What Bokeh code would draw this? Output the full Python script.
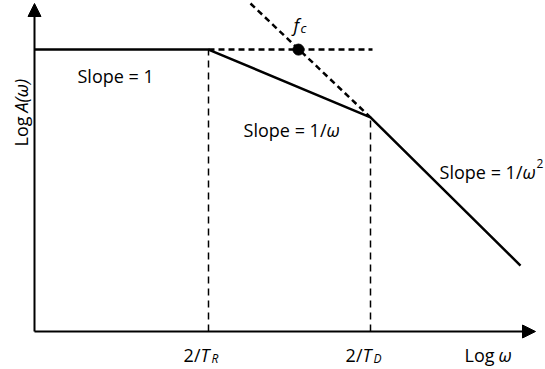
import math
from bokeh.plotting import figure
from bokeh.models import Label, Arrow, NormalHead, Range1d
from bokeh.embed import file_html
from bokeh.resources import INLINE

# ---- data (log-log units, arbitrary) ----
break_x = [0.0, 3.48, 6.72, 9.72]        # 0, 2/T_R, 2/T_D, end
response_y = [8.81, 8.81, 6.69, 2.06]     # Log A(w) at those points
plateau_ext_x = [3.48, 6.76]              # dashed extension of plateau
plateau_ext_y = [8.81, 8.81]
diag_x = [4.32, 6.72]                     # dashed asymptote through f_c
diag_y = [10.25, 6.69]
fc_x = [5.28]
fc_y = [8.81]
tick_x = [3.48, 6.72]
tick_sub = ["R", "D"]

# ---- layout constants (pixel mapping) ----
PXX, PXY = 50.0, 32.0
OX, OY = 34.0, 331.0
W, H = 545, 369
OFF = 0
x0 = (OFF - OX) / PXX
x1 = (OFF + W - OX) / PXX
y1 = (OY - OFF) / PXY
y0 = (OY - (OFF + H)) / PXY

def X(px):
    return (px - OX) / PXX

def Y(py):
    return (OY - py) / PXY

FONT = "Open Sans"
FS = "18px"

p = figure(width=W, height=H, output_backend="svg", toolbar_location=None,
           x_range=Range1d(x0, x1), y_range=Range1d(y0, y1),
           x_axis_type=None, y_axis_type=None, min_border=0)
p.grid.visible = False
p.outline_line_color = None
p.background_fill_color = "white"

# axes with arrows
p.add_layout(Arrow(end=NormalHead(size=13, fill_color="black", line_color="black", line_width=1),
                   x_start=0, y_start=0, x_end=0, y_end=Y(3), line_width=2, line_color="black"))
p.add_layout(Arrow(end=NormalHead(size=13, fill_color="black", line_color="black", line_width=1),
                   x_start=0, y_start=0, x_end=X(535), y_end=0, line_width=2, line_color="black"))

# vertical dashed guides
for i in (1, 2):
    p.line([break_x[i], break_x[i]], [0, response_y[i]], line_color="black",
           line_width=1.5, line_dash="7 5")

# dashed plateau extension and asymptote
p.line(plateau_ext_x, plateau_ext_y, line_color="black", line_width=2.5, line_dash="6 4")
p.line(diag_x, diag_y, line_color="black", line_width=2.5, line_dash="6 4")

# piecewise response
p.line(break_x, response_y, line_color="black", line_width=2.5)

# f_c point
p.scatter(fc_x, fc_y, size=11, color="black")

def lab(x, y, text, xo=0, yo=0, align="left", base="alphabetic", style="normal", size=FS, angle=0):
    p.add_layout(Label(x=x, y=y, x_offset=xo, y_offset=yo, text=text, text_font=FONT,
                       text_font_size=size, text_font_style=style, text_align=align,
                       text_baseline=base, text_color="black", angle=angle))

# slope labels
lab(X(77), Y(75), "Slope = 1")
lab(X(326), Y(129), "Slope = 1/", align="right")
lab(X(326), Y(129), "\u03c9", style="italic")
lab(X(522), Y(171), "Slope = 1/", align="right")
lab(X(522), Y(171), "\u03c9", style="italic")
lab(X(522), Y(171), "2", xo=14, yo=8, size="12px")

# f_c
lab(X(293), Y(24), "f", style="italic")
lab(X(293), Y(24), "c", xo=7, yo=-3, style="italic", size="13px")

# tick labels
for tx, sub in zip(tick_x, tick_sub):
    lab(tx, 0, "2/", xo=-8, yo=-23, align="right")
    lab(tx, 0, "T", xo=-8, yo=-23, style="italic")
    lab(tx, 0, sub, xo=3, yo=-27, style="italic", size="12px")

# axis titles
lab(X(494), 0, "Log", yo=-23, align="right")
lab(X(494), 0, "\u03c9", xo=4, yo=-23, style="italic")

lab(X(20), Y(116), "Log", align="right", base="middle", angle=math.pi / 2)
lab(X(20), Y(116), "A(\u03c9)", yo=4, base="middle", style="italic", angle=math.pi / 2)

open("out.html", "w").write(file_html(p, INLINE))
